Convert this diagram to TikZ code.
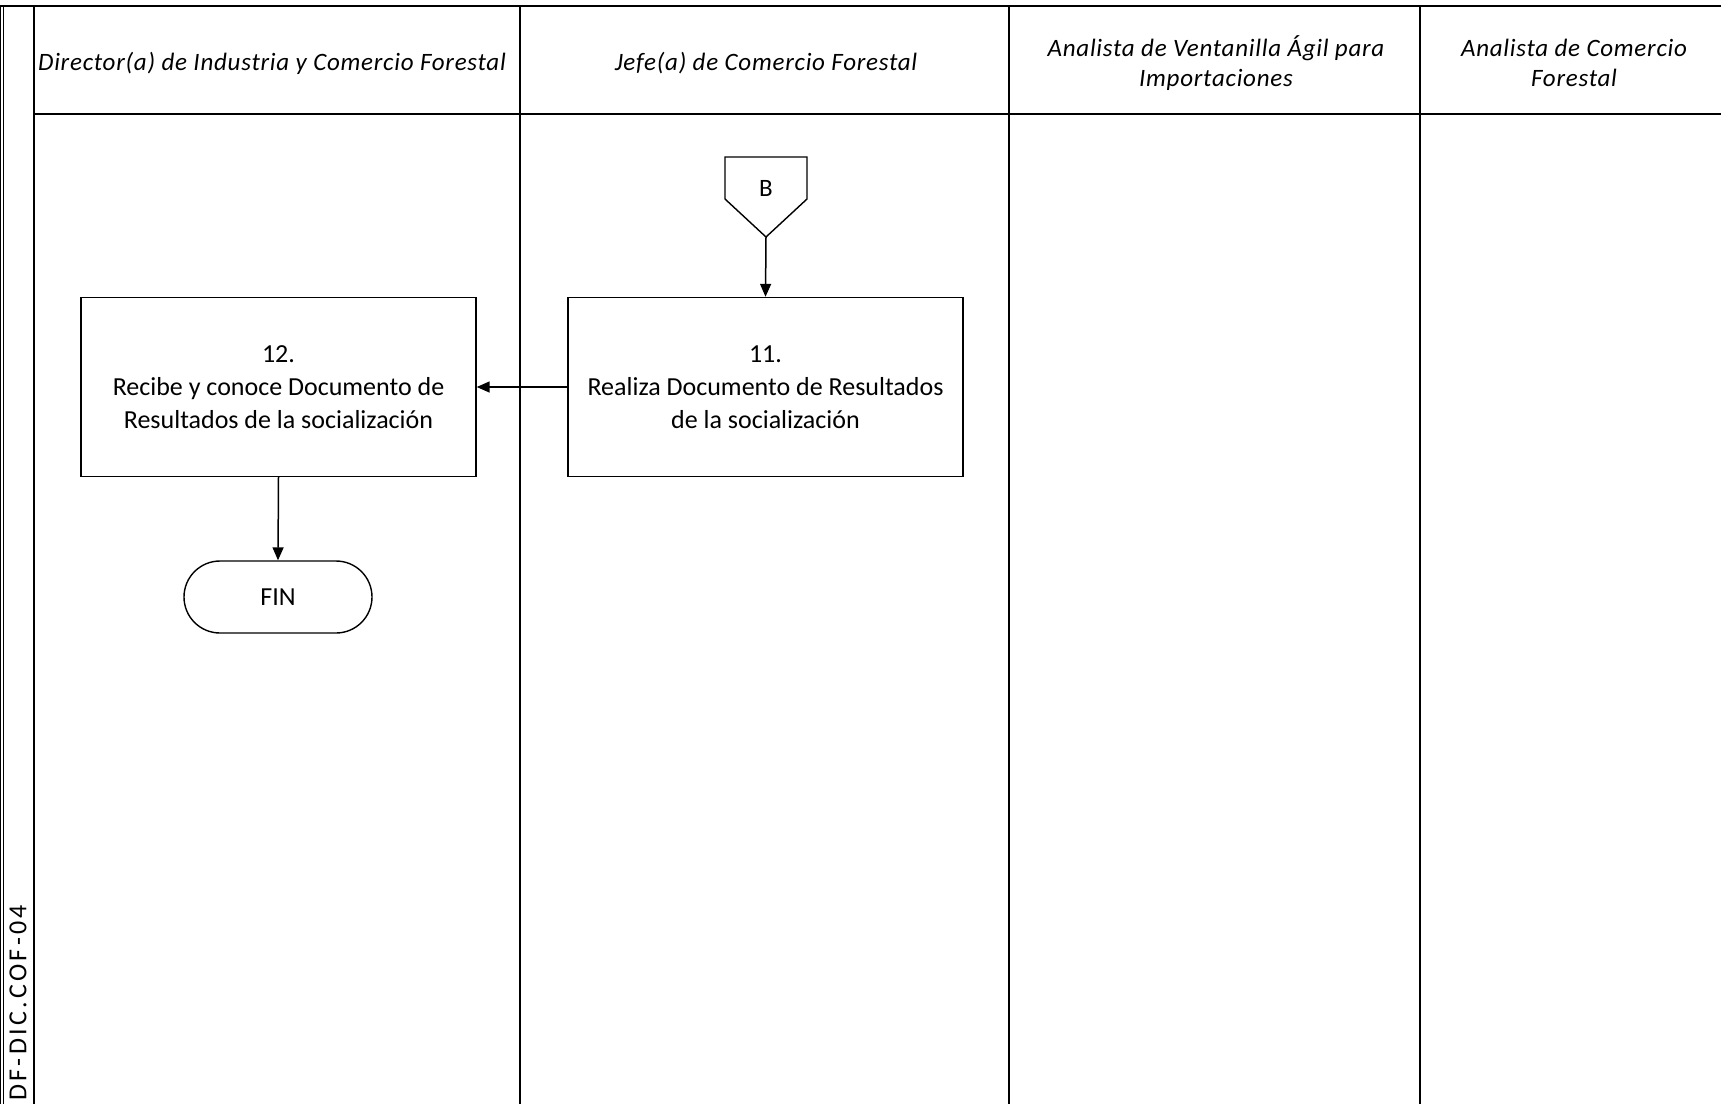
\documentclass[tikz,border=0pt]{standalone}
\usepackage{fontspec}
\setmainfont{Carlito}
\usetikzlibrary{arrows.meta,shapes.misc}

\tikzset{
  lane/.style={line width=2pt, draw=black},
  head/.style={font=\itshape\fontsize{25}{30}\selectfont\addfontfeatures{LetterSpace=3}, align=center, inner sep=0pt},
  stepbox/.style={draw=black, line width=1.4pt, minimum width=395pt, minimum height=179pt,
                  align=center, font=\fontsize{26}{33}\selectfont, inner sep=0pt},
  terminal/.style={draw=black, line width=1.4pt, rounded rectangle, minimum width=188pt,
                   minimum height=72pt, font=\fontsize{26}{30}\selectfont, inner sep=0pt},
  flow/.style={line width=1.5pt, -{Triangle[length=13pt,width=11pt]}},
}

\begin{document}
\begin{tikzpicture}[x=1pt,y=-1pt]
  \useasboundingbox (0,0) rectangle (1721,1104);

  % frame: double left border, header rule and swimlane separators
  \draw[line width=1.2pt] (0.8,5.5) -- (0.8,1104);
  \draw[line width=1.2pt] (3.6,5.5) -- (3.6,1104);
  \draw[lane] (0,5.5) -- (1721,5.5);
  \draw[lane] (34,5.5) -- (34,1104);
  \draw[lane] (34,114) -- (1721,114);
  \draw[lane] (520,5.5) -- (520,1104);
  \draw[lane] (1009,5.5) -- (1009,1104);
  \draw[lane] (1420,5.5) -- (1420,1104);

  % lane titles
  \node[head] (h1) at (272,63) {Director(a) de Industria y Comercio Forestal};
  \node[head] (h2) at (766,63) {Jefe(a) de Comercio Forestal};
  \node[head] (h3) at (1216,63) {Analista de Ventanilla Ágil para\\Importaciones};
  \node[head] (h4) at (1574,63) {Analista de Comercio\\Forestal};

  % document code, vertical in the left column
  \node[rotate=90, anchor=west, inner sep=0pt, font=\fontsize{26}{30}\selectfont\addfontfeatures{LetterSpace=13}]
    (code) at (18,1101) {DF-DIC.COF-04};

  % off-page connector B
  \draw[line width=1.4pt] (725,157) -- (807,157) -- (807,199) -- (766,237) -- (725,199) -- cycle;
  \node[font=\fontsize{25}{30}\selectfont, inner sep=0pt] (B) at (766,188) {B};
  \coordinate (Btip) at (766,237);

  % activities
  \node[stepbox] (s11) at (765.5,387) {11.\\Realiza Documento de Resultados\\de la socialización};
  \node[stepbox] (s12) at (278.5,387) {12.\\Recibe y conoce Documento de\\Resultados de la socialización};
  \node[terminal] (fin) at (278,597) {FIN};

  % flow
  \draw[flow] (Btip) -- (s11.north);
  \draw[flow] (s11.west) -- (s12.east);
  \draw[flow] (s12.south) -- (fin.north);
\end{tikzpicture}
\end{document}
